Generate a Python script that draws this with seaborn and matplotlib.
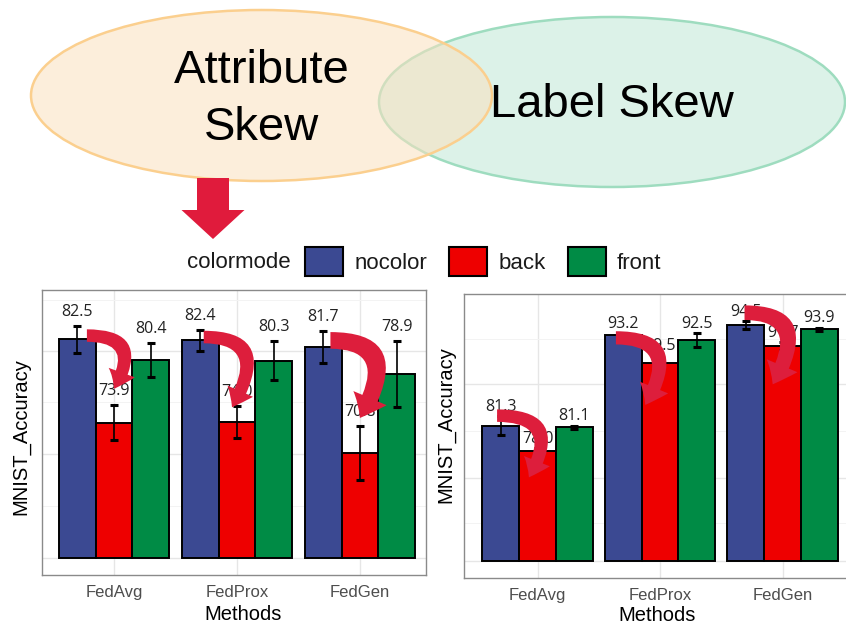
import matplotlib
matplotlib.use("Agg")
import matplotlib.pyplot as plt
from matplotlib.patches import Ellipse, FancyArrowPatch, FancyArrow, Patch
import pandas as pd
import seaborn as sns

# ---------------- data ----------------
methods = ["FedAvg", "FedProx", "FedGen"]
colormodes = ["nocolor", "back", "front"]

# attribute skew (left panel)
attr_nocolor = [82.5, 82.4, 81.7]
attr_back = [73.9, 74.0, 70.8]
attr_front = [80.4, 80.3, 78.9]
attr_nocolor_sd = [1.4, 1.1, 1.65]
attr_back_sd = [1.8, 1.65, 2.75]
attr_front_sd = [1.75, 2.0, 3.4]

# label skew (right panel)
label_nocolor = [81.3, 93.2, 94.5]
label_back = [78.0, 89.5, 91.7]
label_front = [81.1, 92.5, 93.9]
label_nocolor_sd = [1.2, 0.2, 0.5]
label_back_sd = [0.3, 0.95, 0.5]
label_front_sd = [0.2, 0.9, 0.2]

palette = {"nocolor": "#3B4992", "back": "#EE0000", "front": "#008B45"}
ARROW_RED = "#DD1E3C"

sns.set_style("white")
plt.rcParams["font.family"] = ["Liberation Sans", "DejaVu Sans"]


def make_frame(nocolor, back, front, sd_n, sd_b, sd_f):
    rows = []
    for mode, vals, sds in zip(colormodes, [nocolor, back, front], [sd_n, sd_b, sd_f]):
        for m, v, s in zip(methods, vals, sds):
            rows.append({"Methods": m, "colormode": mode, "MNIST_Accuracy": v, "sd": s})
    return pd.DataFrame(rows)


def curved_arrow(ax, start, end, tail, head_w, head_l):
    arr = FancyArrowPatch(
        start, end,
        connectionstyle="angle3,angleA=0,angleB=60",
        arrowstyle=f"simple,tail_width={tail},head_width={head_w},head_length={head_l}",
        color=ARROW_RED, lw=0, shrinkA=0, shrinkB=0, zorder=6, mutation_scale=1,
    )
    ax.add_patch(arr)


def draw_panel(ax, df, base, ylim, major, minor, xlim, arrows, label_off=1.6):
    sns.barplot(data=df, x="Methods", y="MNIST_Accuracy", hue="colormode",
                order=methods, hue_order=colormodes, palette=palette,
                saturation=1, width=0.9, gap=0, edgecolor="black", linewidth=1.4,
                errorbar=None, legend=False, ax=ax)
    ax.set_axisbelow(True)
    tops = {}
    for container, mode in zip(ax.containers, colormodes):
        sub = df[df.colormode == mode].set_index("Methods").loc[methods]
        xs = []
        for bar in container:
            top = bar.get_y() + bar.get_height()
            bar.set_y(base)
            bar.set_height(top - base)
            xs.append(bar.get_x() + bar.get_width() / 2)
        ax.errorbar(xs, sub.MNIST_Accuracy, yerr=sub.sd, fmt="none",
                    ecolor="black", elinewidth=1.2, capsize=3, capthick=2.2,
                    zorder=3)
        for x, v, s in zip(xs, sub.MNIST_Accuracy, sub.sd):
            ax.text(x, v + s + label_off, f"{v:.1f}", ha="center", va="center",
                    fontsize=11.5, family=["Open Sans", "DejaVu Sans"],
                    color="#222222", zorder=4)
        tops[mode] = list(sub.MNIST_Accuracy)

    # arrows from the nocolor bar towards the back bar
    for i, (sdx, sdy, edx, edy, tw, hw, hl) in enumerate(arrows):
        start = (i + sdx, tops["nocolor"][i] + sdy)
        end = (i + edx, tops["back"][i] + edy)
        curved_arrow(ax, start, end, tw, hw, hl)

    ax.set_xlim(*xlim)
    ax.set_ylim(*ylim)
    ax.set_yticks(major)
    ax.set_yticks(minor, minor=True)
    ax.set_yticklabels([])
    ax.grid(True, which="major", color="#E6E6E6", lw=1.0)
    ax.grid(True, which="minor", axis="y", color="#F3F3F3", lw=0.7)
    ax.tick_params(axis="both", which="major", direction="out", length=3,
                   width=1, color="#333333")
    ax.tick_params(axis="y", which="minor", length=0)
    ax.tick_params(axis="x", labelsize=12, labelcolor="#4D4D4D", pad=4)
    for sp in ax.spines.values():
        sp.set_visible(True)
        sp.set_color("#8A8A8A")
        sp.set_linewidth(1.0)
    ax.set_xlabel("Methods", fontsize=14.5, color="black")
    ax.set_ylabel("MNIST_Accuracy", fontsize=14.5, color="black")


W, H = 846, 624
fig = plt.figure(figsize=(W / 100, H / 100), dpi=100)
fig.patch.set_facecolor("white")

# ---------------- top illustration ----------------
ov = fig.add_axes([0, 0, 1, 1], zorder=-1)
ov.set_xlim(0, W)
ov.set_ylim(H, 0)
ov.axis("off")
ov.add_patch(Ellipse((612, 102), 466, 170, facecolor="#DCF2E8",
                     edgecolor="#9EDCBF", lw=1.8))
ov.add_patch(Ellipse((261.5, 95.5), 461, 171, facecolor=(251/255, 224/255, 190/255, 0.543),
                     edgecolor="#FBCF8E", lw=1.8))
ov.text(262, 83, "Attribute", ha="center", va="baseline", fontsize=34, color="black")
ov.text(262, 140, "Skew", ha="center", va="baseline", fontsize=34, color="black")
ov.text(612, 117, "Label Skew", ha="center", va="baseline", fontsize=34, color="black")
ov.add_patch(FancyArrow(213, 178, 0, 61, width=32, head_width=63, head_length=29,
                        length_includes_head=True, color="#E01B3C", lw=0))

# ---------------- legend ----------------
fig.text(187 / W, 1 - 262 / H, "colormode", ha="left", va="center",
         fontsize=16, color="#1A1A1A")
handles = [Patch(facecolor=palette[m], edgecolor="black", linewidth=1.5) for m in colormodes]
fig.legend(handles, colormodes, loc="center left",
           bbox_to_anchor=(305 / W, 1 - 261.5 / H), ncol=3, frameon=False,
           fontsize=16, handlelength=1.71, handleheight=1.67,
           handletextpad=0.5, columnspacing=1.0, borderpad=0, borderaxespad=0,
           labelcolor="#1A1A1A")

# ---------------- panels ----------------
ax1 = fig.add_axes([42 / W, 1 - 575 / H, 384 / W, 285 / H])
ax2 = fig.add_axes([464 / W, 1 - 578 / H, 392 / W, 284 / H])

df_attr = make_frame(attr_nocolor, attr_back, attr_front,
                     attr_nocolor_sd, attr_back_sd, attr_front_sd)
df_label = make_frame(label_nocolor, label_back, label_front,
                      label_nocolor_sd, label_back_sd, label_front_sd)

# arrow geometry: (start dx, start dy, end dx, end dy, tail, head width, head length)
attr_arrows = [(-0.22, 0.4, 0.0, 3.5, 9, 20, 13),
               (-0.27, 0.35, -0.04, 1.5, 9, 20, 13),
               (-0.24, 0.7, 0.0, 3.6, 12, 26, 16)]
label_arrows = [(-0.33, 1.3, -0.07, -3.5, 9, 20, 13),
                (-0.36, -0.4, -0.12, -5.5, 9.5, 22, 14),
                (-0.31, 1.6, -0.08, -5.0, 10.5, 24, 15)]

draw_panel(ax1, df_attr, 60, (58.2, 87.6), [60, 70.65, 81.3], [65.3, 76.0, 86.6],
           (-0.585, 2.537), attr_arrows, label_off=1.45)
draw_panel(ax2, df_label, 63.5, (61.3, 98.55), [63.5, 74.4, 86.7], [68.5, 80.6, 92.7],
           (-0.6, 2.6), label_arrows, label_off=1.25)

ax1.yaxis.set_label_coords(-0.031, 0.484)
ax1.xaxis.set_label_coords(0.523, -0.105)
ax2.yaxis.set_label_coords(-0.023, 0.542)
ax2.xaxis.set_label_coords(0.492, -0.097)

fig.savefig("out.png", dpi=100, facecolor="white")
